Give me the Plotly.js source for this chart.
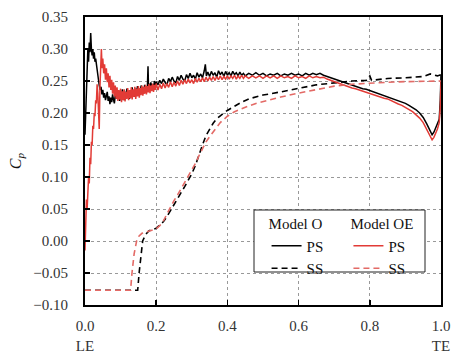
<!DOCTYPE html>
<html>
<head>
<meta charset="utf-8">
<script src="https://cdn.plot.ly/plotly-3.0.1.min.js"></script>
<style>html,body{margin:0;padding:0;background:#fff;}#chart{width:453px;height:354px;}</style>
</head>
<body>
<div id="chart"></div>
<script>
// Model O, pressure side
const psO_x = [0.000,0.002,0.004,0.006,0.008,0.010,0.012,0.014,0.016,0.018,0.020,0.022,0.024,0.026,0.028,
0.0300,0.0325,0.0350,0.0375,0.0400,0.0425,0.0450,0.0475,0.0500,0.0525,0.0550,0.0575,0.0600,0.0625,0.0650,0.0675,0.0700,0.0725,0.0750,0.0775,0.0800,0.0825,0.0850,0.0875,0.0900,0.0925,0.0950,0.0975,0.1000,0.1025,0.1050,0.1075,0.1100,0.1125,0.1150,0.1175,0.1200,0.1225,0.1250,0.1275,0.1300,0.1325,0.1350,0.1375,0.1400,0.1425,0.1450,0.1475,0.1500,0.1525,0.1550,0.1575,0.1600,0.1625,0.1650,0.1675,0.1700,0.1725,0.1750,0.1770,0.1785,0.1800,0.1825,0.1850,0.1875,0.1900,0.1925,0.1950,0.1975,0.2000,
0.205,0.21,0.215,0.22,0.225,0.23,0.235,0.24,0.245,0.25,0.255,0.26,0.265,0.27,0.275,0.28,0.285,0.29,0.295,0.30,0.305,0.31,0.315,0.32,0.325,0.33,0.335,0.338,0.341,0.345,0.35,0.355,0.36,0.365,0.37,0.375,0.38,0.385,0.39,0.395,0.40,0.405,0.41,0.415,0.42,0.425,0.43,0.435,0.44,0.445,0.45,
0.46,0.47,0.48,0.49,0.50,0.51,0.52,0.53,0.54,0.55,0.56,0.57,0.58,0.59,0.60,0.61,0.62,0.63,0.64,0.65,0.66,0.67,0.68,
0.69,0.70,0.71,0.72,0.73,0.74,0.75,0.76,0.77,0.78,0.79,0.80,0.81,0.82,0.83,0.84,0.85,0.86,0.87,0.88,0.89,0.90,0.91,0.92,0.93,0.94,0.95,0.96,0.965,0.97,0.975,0.98,0.985,0.99,0.995,0.998,1.0];
const psO_y = [0.166,0.20,0.25,0.29,0.30,0.28,0.31,0.295,0.325,0.30,0.29,0.30,0.285,0.295,0.28,
0.285,0.272,0.262,0.25,0.243,0.236,0.241,0.229,0.236,0.224,0.231,0.22,0.228,0.233,0.219,0.226,0.214,0.224,0.217,0.229,0.221,0.215,0.228,0.222,0.234,0.223,0.229,0.219,0.232,0.224,0.237,0.226,0.22,0.233,0.226,0.238,0.227,0.233,0.222,0.236,0.229,0.24,0.228,0.234,0.225,0.238,0.231,0.242,0.23,0.237,0.229,0.243,0.234,0.24,0.232,0.244,0.236,0.241,0.235,0.273,0.238,0.246,0.237,0.248,0.24,0.245,0.239,0.25,0.242,0.249,
0.244,0.251,0.246,0.253,0.248,0.244,0.254,0.249,0.256,0.25,0.247,0.257,0.251,0.259,0.253,0.25,0.26,0.254,0.262,0.255,0.259,0.253,0.263,0.256,0.261,0.255,0.266,0.276,0.258,0.264,0.257,0.265,0.259,0.263,0.256,0.266,0.26,0.264,0.257,0.265,0.259,0.263,0.258,0.265,0.26,0.263,0.258,0.264,0.259,0.262,0.258,
0.262,0.259,0.263,0.259,0.262,0.258,0.261,0.259,0.262,0.258,0.261,0.259,0.262,0.259,0.261,0.258,0.262,0.259,0.262,0.26,0.262,0.259,0.257,
0.255,0.253,0.251,0.249,0.247,0.246,0.243,0.242,0.24,0.238,0.237,0.235,0.233,0.232,0.229,0.228,0.226,0.224,0.222,0.22,0.217,0.215,0.212,0.209,0.205,0.2,0.193,0.183,0.178,0.172,0.166,0.17,0.176,0.182,0.19,0.22,0.26];

// Model OE, pressure side
const psOE_x = [0.000,0.002,0.004,0.006,0.008,0.010,0.012,0.014,0.016,0.018,0.020,0.022,0.024,0.026,0.028,0.030,0.032,0.034,0.036,0.038,0.040,0.042,0.044,0.046,0.048,
0.0500,0.0525,0.0550,0.0575,0.0600,0.0625,0.0650,0.0675,0.0700,0.0725,0.0750,0.0775,0.0800,0.0825,0.0850,0.0875,0.0900,0.0925,0.0950,0.0975,0.1000,0.1025,0.1050,0.1075,0.1100,0.1125,0.1150,0.1175,0.1200,0.1225,0.1250,0.1275,0.1300,0.1325,0.1350,0.1375,0.1400,0.1425,0.1450,0.1475,0.1500,0.1525,0.1550,0.1575,0.1600,0.1625,0.1650,0.1675,0.1700,0.1725,0.1750,0.1775,0.1800,0.1825,0.1850,0.1875,0.1900,0.1925,0.1950,0.1975,0.2000,
0.205,0.21,0.215,0.22,0.225,0.23,0.235,0.24,0.245,0.25,0.255,0.26,0.265,0.27,0.275,0.28,0.285,0.29,0.295,0.30,0.305,0.31,0.315,0.32,0.325,0.33,0.335,0.34,0.345,0.35,0.355,0.36,0.365,0.37,0.375,0.38,0.385,0.39,0.395,0.40,0.405,0.41,0.415,0.42,0.425,0.43,0.435,0.44,0.445,0.45,
0.46,0.47,0.48,0.49,0.50,0.51,0.52,0.53,0.54,0.55,0.56,0.57,0.58,0.59,0.60,0.61,0.62,0.63,0.64,0.65,0.66,0.67,0.68,
0.69,0.70,0.71,0.72,0.73,0.74,0.75,0.76,0.77,0.78,0.79,0.80,0.81,0.82,0.83,0.84,0.85,0.86,0.87,0.88,0.89,0.90,0.91,0.92,0.93,0.94,0.95,0.96,0.965,0.97,0.975,0.98,0.985,0.99,0.995,0.998,1.0];
const psOE_y = [-0.015,0.03,0.065,0.05,0.075,0.10,0.09,0.13,0.12,0.155,0.15,0.18,0.175,0.20,0.195,0.22,0.215,0.245,0.23,0.21,0.175,0.24,0.28,0.30,0.27,
0.285,0.262,0.276,0.252,0.27,0.248,0.262,0.24,0.258,0.236,0.252,0.23,0.248,0.226,0.243,0.222,0.24,0.219,0.236,0.221,0.238,0.217,0.234,0.22,0.237,0.218,0.233,0.222,0.239,0.22,0.236,0.223,0.24,0.221,0.237,0.225,0.241,0.222,0.238,0.226,0.242,0.224,0.239,0.228,0.243,0.227,0.241,0.23,0.244,0.229,0.242,0.232,0.245,0.231,0.243,0.234,0.246,0.233,0.244,0.236,0.246,
0.236,0.245,0.238,0.247,0.239,0.246,0.24,0.249,0.241,0.248,0.242,0.25,0.243,0.251,0.245,0.252,0.246,0.253,0.247,0.252,0.246,0.254,0.248,0.254,0.249,0.255,0.249,0.256,0.25,0.256,0.251,0.257,0.251,0.257,0.252,0.258,0.252,0.257,0.253,0.258,0.253,0.258,0.254,0.259,0.253,0.258,0.254,0.259,0.254,0.258,
0.254,0.258,0.255,0.258,0.254,0.258,0.255,0.258,0.254,0.258,0.255,0.257,0.254,0.258,0.255,0.257,0.254,0.258,0.255,0.257,0.255,0.256,0.253,
0.251,0.248,0.247,0.245,0.243,0.241,0.239,0.238,0.236,0.234,0.232,0.23,0.229,0.227,0.225,0.223,0.222,0.219,0.217,0.214,0.212,0.209,0.206,0.202,0.197,0.192,0.185,0.175,0.169,0.163,0.158,0.162,0.168,0.175,0.185,0.21,0.25];

// Model O, suction side
const ssO_x = [0.0,0.148,0.152,0.157,0.162,0.17,0.18,0.19,0.20,0.21,0.22,0.23,0.24,0.25,0.26,0.27,0.28,0.29,0.30,0.31,0.32,0.33,0.34,0.35,0.36,0.37,0.38,0.39,0.40,0.42,0.44,0.46,0.48,0.50,0.55,0.60,0.65,0.70,0.75,0.79,0.80,0.805,0.85,0.90,0.95,0.97,0.99,1.0];
const ssO_y = [-0.077,-0.077,-0.05,-0.02,0.0,0.01,0.016,0.018,0.02,0.025,0.03,0.038,0.047,0.057,0.066,0.075,0.085,0.095,0.105,0.118,0.135,0.15,0.165,0.175,0.184,0.191,0.196,0.2,0.204,0.211,0.217,0.222,0.225,0.228,0.233,0.239,0.244,0.247,0.25,0.251,0.258,0.251,0.254,0.255,0.257,0.261,0.258,0.26];

// Model OE, suction side
const ssOE_x = [0.0,0.128,0.132,0.138,0.145,0.152,0.16,0.17,0.18,0.19,0.20,0.21,0.22,0.23,0.24,0.25,0.26,0.27,0.28,0.29,0.30,0.31,0.32,0.33,0.34,0.35,0.36,0.37,0.38,0.39,0.40,0.42,0.44,0.46,0.48,0.50,0.55,0.60,0.65,0.70,0.75,0.80,0.85,0.90,0.95,1.0];
const ssOE_y = [-0.077,-0.077,-0.05,-0.02,0.0,0.008,0.012,0.014,0.015,0.017,0.019,0.024,0.031,0.042,0.053,0.063,0.072,0.082,0.092,0.101,0.11,0.121,0.133,0.145,0.155,0.163,0.171,0.178,0.185,0.19,0.195,0.202,0.207,0.211,0.215,0.218,0.225,0.231,0.237,0.242,0.245,0.247,0.248,0.249,0.25,0.25];

const xTickVals = [0.0,0.2,0.4,0.6,0.8,1.0];
const xTickText = ['0.0<br>LE','0.2','0.4','0.6','0.8','1.0<br>TE'];
const yTickVals = [-0.10,-0.05,0.00,0.05,0.10,0.15,0.20,0.25,0.30,0.35];

const RED = '#e23b36';
const RED_SS = '#e36a66';
const FONT = '"Liberation Serif", "DejaVu Serif", "Times New Roman", Times, serif';

const traces = [
  {x: psO_x, y: psO_y, name: 'PS', mode: 'lines', line: {color: '#000', width: 1.5}, legend: 'legend'},
  {x: ssO_x, y: ssO_y, name: 'SS', mode: 'lines', line: {color: '#000', width: 1.6, dash: '6px,4px'}, legend: 'legend'},
  {x: psOE_x, y: psOE_y, name: 'PS', mode: 'lines', line: {color: RED, width: 1.5}, legend: 'legend2'},
  {x: ssOE_x, y: ssOE_y, name: 'SS', mode: 'lines', line: {color: RED_SS, width: 1.6, dash: '6px,4px'}, legend: 'legend2'}
];

const axisCommon = {
  showline: true, mirror: true, linecolor: '#000', linewidth: 2,
  ticks: 'inside', ticklen: 5, tickwidth: 1.5, tickcolor: '#000',
  showgrid: true, gridcolor: '#999', griddash: 'dot', gridwidth: 1,
  zeroline: false,
  tickfont: {family: FONT, size: 15, color: '#333'}
};

const legendCommon = {
  bgcolor: 'rgba(0,0,0,0)', borderwidth: 0,
  font: {family: FONT, size: 15, color: '#111'},
  xanchor: 'left', yanchor: 'top', tracegroupgap: 0,
  itemwidth: 30
};

const layout = {
  width: 453, height: 354,
  font: {family: FONT, size: 15, color: '#222'},
  margin: {l: 85, r: 12, t: 17, b: 49},
  paper_bgcolor: '#fff', plot_bgcolor: '#fff',
  showlegend: true,
  xaxis: Object.assign({}, axisCommon, {
    range: [0, 1], tickvals: xTickVals, ticktext: xTickText, ticklabelstandoff: 6
  }),
  yaxis: Object.assign({}, axisCommon, {
    range: [-0.10, 0.35], tickvals: yTickVals, tickformat: '.2f', ticklabelstandoff: 12,
    title: {text: '<i>C<sub>p</sub></i>', font: {family: FONT, size: 16, color: '#111'}, standoff: 8}
  }),
  legend: Object.assign({}, legendCommon, {
    x: 0.51, y: 0.33, title: {text: 'Model O', font: {family: FONT, size: 15, color: '#111'}}
  }),
  legend2: Object.assign({}, legendCommon, {
    x: 0.74, y: 0.33, title: {text: 'Model OE', font: {family: FONT, size: 15, color: '#111'}}
  }),
  shapes: [{
    type: 'rect', xref: 'paper', yref: 'paper', layer: 'above',
    x0: (254-85)/356, x1: (425-85)/356, y0: (305-272)/288, y1: (305-210)/288,
    line: {color: '#222', width: 1}, fillcolor: '#fff'
  }]
};

Plotly.newPlot('chart', traces, layout, {displayModeBar: false, staticPlot: true});
</script>
</body>
</html>
